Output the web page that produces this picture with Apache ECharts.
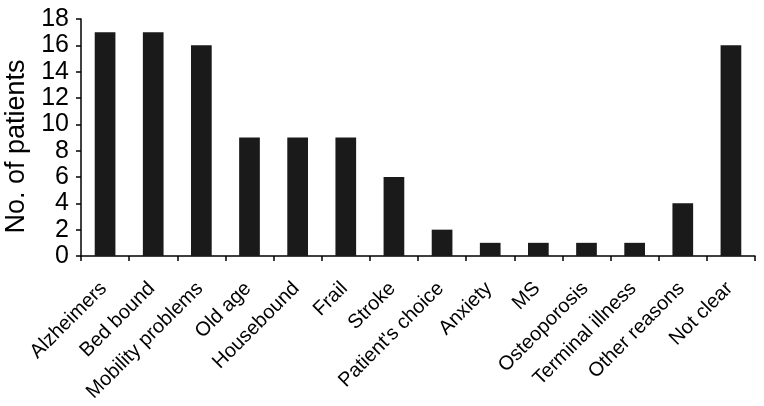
<!DOCTYPE html>
<html>
<head>
<meta charset="utf-8">
<script src="https://cdn.jsdelivr.net/npm/echarts@6/dist/echarts.min.js"></script>
<style>
  html, body { margin: 0; padding: 0; background: #fff; }
  #chart { width: 764px; height: 406px; }
</style>
</head>
<body>
<div id="chart"></div>
<script>
const categories = ['Alzheimers', 'Bed bound', 'Mobility problems', 'Old age', 'Housebound', 'Frail', 'Stroke',
  "Patient's choice", 'Anxiety', 'MS', 'Osteoporosis', 'Terminal illness', 'Other reasons', 'Not clear']
const patients = [17, 17, 16, 9, 9, 9, 6, 2, 1, 1, 1, 1, 4, 16]
const yTicks = { min: 0, max: 18, interval: 2 }

const chart = echarts.init(document.getElementById('chart'))
chart.setOption({
  backgroundColor: '#fff',
  animation: false,
  grid: { left: 81, right: 9, top: 19, bottom: 150, outerBoundsMode: 'none' },
  xAxis: {
    type: 'category',
    data: categories,
    axisLine: { lineStyle: { color: '#000', width: 1.5 } },
    axisTick: { show: true, length: 5, lineStyle: { color: '#000', width: 1.5 } },
    axisLabel: {
      interval: 0,
      rotate: 45,
      margin: 28,
      padding: [0, 2, 0, 0],
      color: '#000',
      fontFamily: 'Liberation Sans, Arial',
      fontSize: 20
    }
  },
  yAxis: {
    type: 'value',
    min: yTicks.min,
    max: yTicks.max,
    interval: yTicks.interval,
    name: 'No. of patients',
    nameLocation: 'middle',
    nameGap: 43,
    nameTextStyle: { color: '#000', fontFamily: 'Liberation Sans, Arial', fontSize: 27, padding: [0, 0, 0, -18] },
    axisLine: { show: true, lineStyle: { color: '#000', width: 1.5 } },
    axisTick: { show: true, length: 5, lineStyle: { color: '#000', width: 1.5 } },
    splitLine: { show: false },
    axisLabel: {
      color: '#000',
      margin: 12,
      fontFamily: 'Liberation Sans, Arial',
      fontSize: 25
    }
  },
  series: [{
    type: 'bar',
    data: patients,
    barWidth: '43%',
    itemStyle: { color: '#1a1a1a' }
  }]
})
</script>
</body>
</html>
